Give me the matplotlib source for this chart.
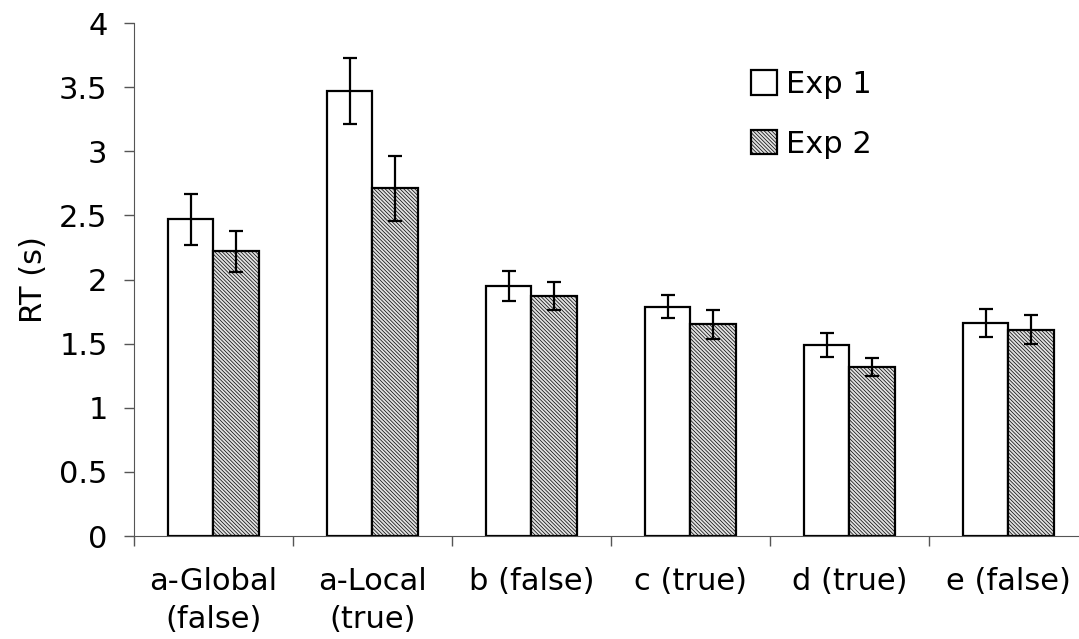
import numpy as np
import matplotlib
matplotlib.use('Agg')
import matplotlib.pyplot as plt

# data
conds = ['a-Global\n(false)', 'a-Local\n(true)', 'b (false)', 'c (true)', 'd (true)', 'e (false)']
exp1 = [2.47, 3.47, 1.95, 1.79, 1.49, 1.66]
exp1_err = [0.20, 0.26, 0.12, 0.09, 0.09, 0.11]
exp2 = [2.22, 2.71, 1.87, 1.65, 1.32, 1.61]
exp2_err = [0.16, 0.25, 0.11, 0.11, 0.07, 0.11]

plt.rcParams['font.family'] = ['DejaVu Sans']
plt.rcParams['hatch.linewidth'] = 0.5
plt.rcParams['hatch.color'] = '#666666'

fig = plt.figure(figsize=(10.79, 6.39), dpi=100)
ax = fig.add_axes([0.1242, 0.161, 0.884, 0.803])

x = np.arange(len(conds))
w = 0.285
err_kw = dict(elinewidth=1.6, capthick=1.6, capsize=5, ecolor='black')
ax.bar(x - w/2, exp1, w, yerr=exp1_err, color='white', edgecolor='black',
       linewidth=1.6, error_kw=err_kw, label='Exp 1')
ax.bar(x + w/2, exp2, w, yerr=exp2_err, color='#e0e0e0', edgecolor='black',
       linewidth=1.6, hatch='\\\\\\\\\\\\\\\\\\', error_kw=err_kw, label='Exp 2')

ax.set_xlim(-0.5, len(conds) - 0.5)
ax.set_ylim(0, 4)
ax.set_yticks(np.arange(0, 4.01, 0.5))
ax.set_yticklabels(['0', '0.5', '1', '1.5', '2', '2.5', '3', '3.5', '4'])
ax.set_xticks(x)
ax.set_xticklabels(conds, linespacing=1.4)
ax.set_xticks(np.arange(-0.5, len(conds), 1), minor=True)
ax.tick_params(axis='x', which='major', length=0, pad=22, labelsize=22)
ax.tick_params(axis='x', which='minor', length=7, width=1, color='#555555')
ax.tick_params(axis='y', length=7, width=1, color='#555555', pad=12, labelsize=22)

ax.spines['top'].set_visible(False)
ax.spines['right'].set_visible(False)
ax.spines['left'].set_color('#555555')
ax.spines['bottom'].set_color('#555555')

ax.set_ylabel('RT (s)', fontsize=22, labelpad=8)

ax.legend(loc='upper left', bbox_to_anchor=(0.618, 0.962), frameon=False,
          fontsize=22, handlelength=0.85, handleheight=0.85, handletextpad=0.3,
          labelspacing=1.0)

fig.savefig('out.png', dpi=100)
